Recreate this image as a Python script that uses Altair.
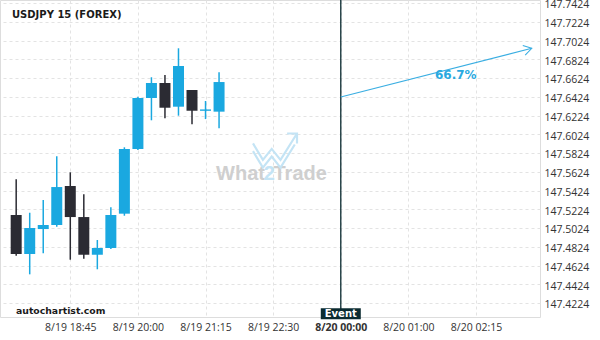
import altair as alt
import pandas as pd

# ---- data ----
idx = list(range(16))  # 15-minute candles starting 8/19 17:45
opens = [147.5165, 147.4749, 147.5015, 147.5058, 147.5474, 147.5143, 147.4741, 147.4813,
         147.5179, 147.5869, 147.6413, 147.6573, 147.6320, 147.6498, 147.6276, 147.6267]
closes = [147.4749, 147.5026, 147.5058, 147.5463, 147.5143, 147.4741, 147.4813, 147.5165,
          147.5869, 147.6413, 147.6573, 147.6309, 147.6754, 147.6277, 147.6291, 147.6583]
highs = [147.5546, 147.5189, 147.5325, 147.5791, 147.5620, 147.5386, 147.4898, 147.5247,
         147.5887, 147.6427, 147.6634, 147.6658, 147.6943, 147.6498, 147.6381, 147.6687]
lows = [147.4731, 147.4532, 147.4756, 147.5040, 147.4688, 147.4699, 147.4586, 147.4802,
        147.5157, 147.5858, 147.6175, 147.6196, 147.6224, 147.6132, 147.6188, 147.6090]

tick_idx = [4, 9, 14, 19, 24, 29, 34]
tick_labels = ["8/19 18:45", "8/19 20:00", "8/19 21:15", "8/19 22:30",
               "8/20 00:00", "8/20 01:00", "8/20 02:15"]
y_ticks = [147.4224, 147.4424, 147.4624, 147.4824, 147.5024, 147.5224, 147.5424, 147.5624,
           147.5824, 147.6024, 147.6224, 147.6424, 147.6624, 147.6824, 147.7024, 147.7224,
           147.7424]

event_idx = [24]
event_label = ["Event"]
arrow_idx = [24, 38.12]
arrow_price = [147.6424, 147.6943]
prob_text = ["66.7%"]
prob_idx = [32.5]
prob_price = [147.6660]

BLUE = "#1aa8e0"
DARK = "#2b2b33"
EVENT = "#0b2b31"

df = pd.DataFrame({"idx": idx, "open": opens, "close": closes, "high": highs, "low": lows})
df["dir"] = ["up" if c >= o else "down" for o, c in zip(opens, closes)]

label_map = "{" + ",".join(f"'{i}':'{l}'" for i, l in zip(tick_idx, tick_labels)) + "}"

xscale = alt.Scale(domain=[-0.827, 38.36], nice=False, zero=False)
yscale = alt.Scale(domain=[147.4077, 147.7458], nice=False, zero=False)

xaxis = alt.Axis(values=tick_idx, tickCount=len(tick_idx),
                 labelExpr=f"{label_map}[datum.value]", title=None,
                 ticks=False, domain=False, grid=True, gridDash=[3, 3], gridColor="#e3e3e3",
                 labelFont="Open Sans", labelFontSize=10.5, labelColor="#333333",
                 labelPadding=5, labelOverlap=False,
                 labelFontWeight=alt.ExprRef(expr="datum.value == 24 ? 'bold' : 'normal'"))
yaxis = alt.Axis(values=y_ticks, tickCount=len(y_ticks), format=".4f", orient="right",
                 title=None, ticks=False,
                 domain=False, grid=True, gridDash=[3, 3], gridColor="#e3e3e3",
                 labelFont="Open Sans", labelFontSize=10.5, labelColor="#333333",
                 labelPadding=4, labelOverlap=False, labelOffset=1.6, labelBound=False)

color = alt.Color("dir:N", scale=alt.Scale(domain=["up", "down"], range=[BLUE, DARK]), legend=None)

base = alt.Chart(df)
wicks = base.mark_rule(strokeWidth=1.5).encode(
    x=alt.X("idx:Q", scale=xscale, axis=xaxis),
    y=alt.Y("low:Q", scale=yscale, axis=yaxis),
    y2="high:Q",
    color=color,
)
bodies = base.mark_bar(size=11).encode(
    x=alt.X("idx:Q", scale=xscale, axis=xaxis),
    y=alt.Y("open:Q", scale=yscale, axis=yaxis),
    y2="close:Q",
    color=color,
)

ev_df = pd.DataFrame({"idx": event_idx, "label": event_label})
event_line = alt.Chart(ev_df).mark_rule(color=EVENT, strokeWidth=1.3).encode(
    x=alt.X("idx:Q", scale=xscale), y=alt.value(0), y2=alt.value(309))
event_box = alt.Chart(ev_df).mark_point(
    shape="M-2,-0.55L2,-0.55L2,0.55L-2,0.55Z", size=400, filled=True, opacity=1,
    color=EVENT, strokeWidth=0).encode(
    x=alt.X("idx:Q", scale=xscale), y=alt.value(313.8))
event_text = alt.Chart(ev_df).mark_text(
    color="white", font="DejaVu Sans", fontWeight="bold", fontSize=10,
    baseline="middle", align="center").encode(
    x=alt.X("idx:Q", scale=xscale), y=alt.value(314.3), text="label:N")

arr_df = pd.DataFrame({"idx": arrow_idx, "price": arrow_price})
arrow_line = alt.Chart(arr_df).mark_line(color="#3aaee2", strokeWidth=1.1).encode(
    x=alt.X("idx:Q", scale=xscale), y=alt.Y("price:Q", scale=yscale))
arrow_head = alt.Chart(arr_df.tail(1)).mark_point(
    shape="M-1,-0.62L0,0L-1,0.62", size=256, filled=False, opacity=1,
    color="#3aaee2", strokeWidth=1.1, angle=346).encode(
    x=alt.X("idx:Q", scale=xscale), y=alt.Y("price:Q", scale=yscale))
prob_df = pd.DataFrame({"idx": prob_idx, "price": prob_price, "t": prob_text})
prob = alt.Chart(prob_df).mark_text(
    color="#29a9df", font="DejaVu Sans", fontWeight="bold", fontSize=12,
    align="center", baseline="middle").encode(
    x=alt.X("idx:Q", scale=xscale), y=alt.Y("price:Q", scale=yscale), text="t:N")

def label(txt, x, y, size, color, align="left", font="DejaVu Sans", weight="bold"):
    return alt.Chart(pd.DataFrame({"t": [txt]})).mark_text(
        font=font, fontSize=size, fontWeight=weight, color=color, align=align,
        baseline="middle").encode(x=alt.value(x), y=alt.value(y), text="t:N")

title = label("USDJPY 15 (FOREX)", 12, 15, 10, "#1a1a1a")
brand = label("autochartist.com", 16, 311, 9.3, "#1a1a1a")
wm1 = label("What", 265, 173.5, 20, "#cfcfcf", align="right", font="Liberation Sans")
wm2 = label("2", 269.3, 173.5, 20, "#c4e4f5", align="center", font="Liberation Sans")
wm3 = label("Trade", 273.5, 173.5, 20, "#cfcfcf", align="left", font="Liberation Sans")
logo = alt.Chart(pd.DataFrame({"t": ["logo"]})).mark_point(
    shape="M-1,-0.3L-0.55,0.45L-0.15,-0.05L0.25,0.45L1,-0.75M0.55,-0.75L1,-0.75L1,-0.3"
          "M-1,0.05L-0.55,0.8L-0.15,0.3L0.25,0.8L0.9,-0.25",
    size=1936, filled=False, opacity=1, color="#c4e4f5", strokeWidth=2.2).encode(
    x=alt.value(275), y=alt.value(150))

chart = alt.layer(
    wicks, bodies, wm1, wm2, wm3, logo, event_line, event_box, event_text,
    arrow_line, arrow_head, prob, title, brand,
).properties(
    width=540, height=317,
    padding={"left": 0, "top": 0, "right": 60, "bottom": 23},
    autosize=alt.AutoSizeParams(type="none"),
).configure_view(strokeWidth=0).configure(background="white")

chart.save("out.html", embed_options={"renderer": "svg", "actions": False})
